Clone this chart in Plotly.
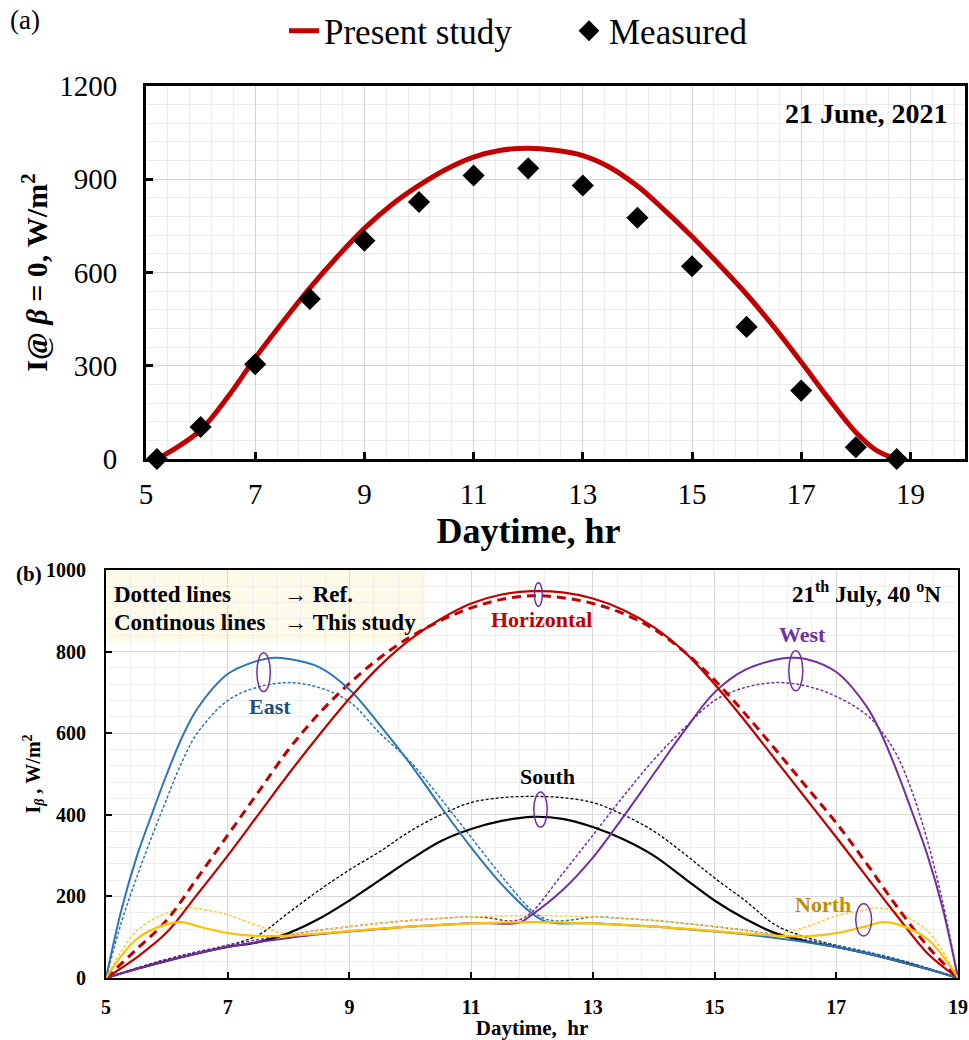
import plotly.graph_objects as go

FONT = "Liberation Serif"

# ---------------- Panel (a) data ----------------
a_curve_x = [5.2, 5.5, 6, 6.5, 7, 7.5, 8, 8.5, 9, 9.5, 10, 10.5, 11, 11.5, 12,
             12.5, 13, 13.5, 14, 14.5, 15, 15.5, 16, 16.5, 17, 17.5, 18, 18.4, 18.75]
a_curve_y = [0, 30, 93, 200, 325, 440, 550, 650, 742, 818, 880, 932, 971, 993, 1000,
             993, 976, 938, 878, 800, 716, 625, 530, 425, 312, 195, 86, 25, 0]
a_meas_x = [5.2, 6, 7, 8, 9, 10, 11, 12, 13, 14, 15, 16, 17, 18, 18.75]
a_meas_y = [0, 103, 305, 515, 702, 827, 912, 935, 880, 776, 620, 425, 220, 38, 0]

# ---------------- Panel (b) data ----------------
hrs = [5, 5.5, 6, 6.5, 7, 7.5, 8, 8.5, 9, 9.5, 10, 10.5, 11, 11.5, 12,
       12.5, 13, 13.5, 14, 14.5, 15, 15.5, 16, 16.5, 17, 17.5, 18, 18.5, 19]

horiz_solid = [0, 50, 112, 205, 300, 400, 500, 595, 685, 765, 830, 880, 918, 940, 948,
               945, 930, 902, 860, 800, 720, 630, 535, 440, 345, 248, 152, 60, 0]
horiz_ref = [0, 70, 142, 245, 350, 455, 560, 648, 722, 785, 836, 876, 907, 928, 937,
             932, 918, 893, 855, 800, 730, 648, 560, 470, 380, 280, 174, 78, 0]

south_solid = [0, 22, 42, 60, 76, 88, 110, 145, 190, 240, 290, 335, 365, 385, 395,
               390, 370, 340, 300, 245, 190, 145, 110, 90, 76, 60, 42, 22, 0]
south_ref = [0, 24, 46, 64, 80, 105, 160, 215, 265, 310, 360, 400, 430, 442, 445,
             442, 430, 400, 360, 305, 245, 190, 130, 100, 80, 64, 46, 24, 0]

east_x = [5, 5.25, 5.5, 5.75, 6, 6.25, 6.5, 7, 7.5, 7.75, 8, 8.5, 9, 9.5, 10, 10.5, 11,
          11.5, 12, 12.2, 12.4, 12.7, 13, 13.5, 14, 14.5, 15, 15.5, 16, 16.5, 17, 17.5,
          18, 18.5, 19]
east_solid = [0, 165, 295, 400, 500, 590, 660, 745, 778, 785, 782, 762, 707, 620, 525,
              420, 320, 230, 158, 140, 134, 134, 134, 130, 126, 120, 114, 107, 98, 88,
              76, 60, 42, 22, 0]
east_ref_x = [5, 5.25, 5.5, 5.75, 6, 6.25, 6.5, 7, 7.5, 8, 8.5, 9, 9.5, 10, 10.5, 11,
              11.5, 12, 12.2, 12.4, 12.7, 13, 13.5, 14, 14.5, 15, 15.5, 16, 16.5, 17,
              17.5, 18, 18.5, 19]
east_ref = [0, 135, 245, 345, 440, 530, 600, 680, 713, 724, 712, 677, 600, 530, 440,
            345, 250, 165, 146, 140, 143, 150, 146, 141, 134, 126, 117, 106, 94, 80,
            64, 46, 24, 0]

west_x = [5, 5.5, 6, 6.5, 7, 7.5, 8, 8.5, 9, 9.5, 10, 10.5, 11, 11.3, 11.6, 11.8, 12,
          12.5, 13, 13.5, 14, 14.5, 15, 15.5, 16, 16.25, 16.5, 17, 17.5, 17.75, 18,
          18.25, 18.5, 18.75, 19]
west_solid = [0, 22, 42, 60, 76, 88, 98, 107, 114, 120, 126, 130, 134, 134, 133, 136,
              155, 215, 295, 395, 500, 605, 700, 755, 780, 785, 782, 750, 665, 595,
              505, 405, 300, 170, 0]
west_ref_x = [5, 5.5, 6, 6.5, 7, 7.5, 8, 8.5, 9, 9.5, 10, 10.5, 11, 11.3, 11.6, 11.8,
              12, 12.5, 13, 13.5, 14, 14.5, 15, 15.5, 16, 16.5, 17, 17.5, 17.75, 18,
              18.25, 18.5, 18.75, 19]
west_ref = [0, 24, 46, 64, 80, 94, 106, 117, 126, 134, 141, 146, 150, 147, 140, 143,
            162, 255, 350, 445, 535, 612, 680, 712, 724, 716, 690, 645, 603, 545, 455,
            335, 185, 0]

north_x = [5, 5.5, 6, 6.25, 6.5, 7, 7.5, 8, 8.5, 9, 9.5, 10, 10.5, 11, 11.5, 12, 12.5,
           13, 13.5, 14, 14.5, 15, 15.5, 16, 16.5, 17, 17.5, 17.75, 18, 18.5, 19]
north_solid = [0, 95, 132, 137, 127, 110, 103, 104, 109, 115, 121, 126, 130, 134, 136,
               137, 136, 134, 130, 126, 121, 115, 109, 104, 102, 110, 127, 137, 132,
               95, 0]
north_ref_x = [5, 5.5, 6, 6.3, 6.5, 7, 7.5, 8, 8.5, 9, 9.5, 10, 10.5, 11, 11.5, 12,
               12.5, 13, 13.5, 14, 14.5, 15, 15.5, 16, 16.5, 17, 17.5, 17.7, 18, 18.5, 19]
north_ref = [0, 115, 160, 172, 170, 155, 128, 108, 117, 126, 134, 141, 146, 150, 152,
             153, 152, 150, 146, 141, 134, 126, 117, 108, 125, 152, 168, 172, 160, 115, 0]

C_RED = "#C00000"
C_BLUE = "#2E75B6"
C_PURPLE = "#7030A0"
C_YELLOW = "#FFC000"
C_BLACK = "#000000"

fig = go.Figure()

# ---- panel (a) traces
fig.add_trace(go.Scatter(x=a_curve_x, y=a_curve_y, mode="lines", name="Present study",
                         line=dict(color=C_RED, width=5, shape="spline"),
                         xaxis="x", yaxis="y"))
fig.add_trace(go.Scatter(x=a_meas_x, y=a_meas_y, mode="markers", name="Measured",
                         marker=dict(symbol="diamond", size=17, color="black"),
                         cliponaxis=False, xaxis="x", yaxis="y"))

# ---- panel (b) traces
thin_dash = "3px,2px"


def addb(x, y, color, dashed, width=2.0, dash=None):
    fig.add_trace(go.Scatter(
        x=x, y=y, mode="lines", showlegend=False,
        line=dict(color=color, width=width, shape="spline", smoothing=1.0,
                  dash=(dash if dash else (thin_dash if dashed else "solid"))),
        xaxis="x2", yaxis="y2"))


addb(hrs, south_ref, C_BLACK, True, 1.3)
addb(east_ref_x, east_ref, C_BLUE, True, 1.5)
addb(west_ref_x, west_ref, C_PURPLE, True, 1.5)
addb(north_ref_x, north_ref, "#FFCC33", True, 1.5)
addb(hrs, horiz_ref, C_RED, True, 3, dash="9px,6px")
addb(hrs, south_solid, C_BLACK, False, 2.2)
addb(east_x, east_solid, C_BLUE, False, 2)
addb(west_x, west_solid, C_PURPLE, False, 2)
addb(hrs, horiz_solid, C_RED, False, 2.2)
addb(north_x, north_solid, C_YELLOW, False, 2.2)

W, H = 969, 1040


def px(xp):
    return xp / W


def py(yp):
    return 1 - yp / H


ax_font = dict(family=FONT, size=29, color="black")

fig.update_layout(
    width=W, height=H, autosize=False,
    margin=dict(l=0, r=0, t=0, b=0, autoexpand=False),
    paper_bgcolor="white", plot_bgcolor="white",
    font=dict(family=FONT, color="black"),
    showlegend=True,
    legend=dict(orientation="h", x=px(284), y=py(31), xanchor="left", yanchor="middle",
                font=dict(family=FONT, size=35, color="black"),
                bgcolor="rgba(0,0,0,0)", entrywidth=240, tracegroupgap=0),
    xaxis=dict(domain=[px(146), px(965)], anchor="y", range=[5, 20], automargin=False,
               tickmode="array", tickvals=[5, 7, 9, 11, 13, 15, 17, 19],
               ticks="inside", ticklen=7, tickwidth=3, tickcolor="black",
               showline=True, linewidth=3, linecolor="black", mirror=True,
               showgrid=True, gridcolor="#d4d4d4", gridwidth=1.3,
               minor=dict(dtick=0.4, tick0=5, showgrid=True, gridcolor="#ececec", gridwidth=1),
               zeroline=False, tickfont=ax_font, ticklabelstandoff=7,
               title=dict(text="<b>Daytime, hr</b>" + "&nbsp;" * 6,
                          font=dict(family=FONT, size=36, color="black"), standoff=10)),
    yaxis=dict(domain=[py(459), py(86)], anchor="x", range=[0, 1200], automargin=False,
               tickmode="linear", tick0=0, dtick=300,
               ticks="inside", ticklen=7, tickwidth=3, tickcolor="black",
               showline=True, linewidth=3, linecolor="black", mirror=True,
               showgrid=True, gridcolor="#d4d4d4", gridwidth=1.3,
               minor=dict(dtick=60, showgrid=True, gridcolor="#ececec", gridwidth=1),
               zeroline=False, tickfont=ax_font, ticklabelstandoff=20,
               title=dict(text="<b>I@ <i>β</i> = 0, W/m<sup>2</sup></b>",
                          font=dict(family=FONT, size=30, color="black"), standoff=3)),
    xaxis2=dict(domain=[px(106), px(958)], anchor="y2", range=[5, 19], automargin=False,
                tickmode="linear", tick0=5, dtick=2,
                ticks="inside", ticklen=6, tickwidth=2, tickcolor="black",
                showline=True, linewidth=2, linecolor="black", mirror=True,
                showgrid=True, gridcolor="#d9d9d9", gridwidth=1.2,
                minor=dict(dtick=0.4, tick0=5, showgrid=True, gridcolor="#eeeeee", gridwidth=1),
                zeroline=False, tickfont=dict(family=FONT, size=20, color="black"),
                tickprefix="<b>", ticksuffix="</b>", ticklabelstandoff=10,
                title=dict(text="<b>Daytime,  hr</b>", font=dict(family=FONT, size=21, color="black"),
                           standoff=6)),
    yaxis2=dict(domain=[py(978), py(570)], anchor="x2", range=[0, 1000], automargin=False,
                tickmode="linear", tick0=0, dtick=200,
                ticks="inside", ticklen=6, tickwidth=2, tickcolor="black",
                showline=True, linewidth=2, linecolor="black", mirror=True,
                showgrid=True, gridcolor="#d9d9d9", gridwidth=1.2,
                minor=dict(dtick=40, showgrid=True, gridcolor="#eeeeee", gridwidth=1),
                zeroline=False, tickfont=dict(family=FONT, size=20, color="black"),
                tickprefix="<b>", ticksuffix="</b>", ticklabelstandoff=14,
                title=dict(text="<b>I<sub><i>β</i></sub> , W/m<sup>2</sup></b>",
                           font=dict(family=FONT, size=20, color="black"), standoff=0)),
)

# legend note box in panel (b)
fig.add_shape(type="rect", xref="x2", yref="y2", x0=5, x1=10.25, y0=822, y1=1000,
              fillcolor="#FDFBE8", line=dict(width=0), layer="below")

# ovals in panel (b)
ovals = [(7.48, 7.70, 702, 797), (12.04, 12.17, 911, 969), (16.22, 16.45, 704, 802),
         (12.03, 12.25, 370, 456), (17.32, 17.58, 103, 182)]
for x0, x1, y0, y1 in ovals:
    fig.add_shape(type="circle", xref="x2", yref="y2", x0=x0, x1=x1, y0=y0, y1=y1,
                  line=dict(color=C_PURPLE, width=1.5), fillcolor="rgba(0,0,0,0)")

# curve labels panel (b)
labels = [("East", 7.7, 665, "#1F4E79"), ("Horizontal", 12.15, 879, C_RED),
          ("West", 16.45, 842, C_PURPLE), ("South", 12.25, 493, C_BLACK),
          ("North", 16.78, 179, "#BF8F00")]
for txt, xv, yv, col in labels:
    fig.add_annotation(x=xv, y=yv, xref="x2", yref="y2", text="<b>%s</b>" % txt,
                       showarrow=False, font=dict(family=FONT, size=22, color=col))

# text annotations
fig.add_annotation(x=px(8), y=py(20), xref="paper", yref="paper", text="(a)",
                   showarrow=False, xanchor="left", yanchor="middle",
                   font=dict(family=FONT, size=27, color="black"))
fig.add_annotation(x=px(14), y=py(574), xref="paper", yref="paper", text="<b>(b)</b>",
                   showarrow=False, xanchor="left", yanchor="middle",
                   font=dict(family=FONT, size=21, color="black"))
fig.add_annotation(x=px(950), y=py(113), xref="paper", yref="paper",
                   text="<b>21 June, 2021</b>", showarrow=False, xanchor="right",
                   yanchor="middle", font=dict(family=FONT, size=28, color="black"))
fig.add_annotation(x=px(943), y=py(592), xref="paper", yref="paper",
                   text="<b>21<sup>th</sup> July, 40 <sup>o</sup>N</b>", showarrow=False,
                   xanchor="right", yanchor="middle",
                   font=dict(family=FONT, size=23, color="black"))
fig.add_annotation(x=px(112), y=py(594), xref="paper", yref="paper",
                   text="<b>Dotted lines</b>", showarrow=False, xanchor="left",
                   yanchor="middle", font=dict(family=FONT, size=23, color="black"))
fig.add_annotation(x=px(282), y=py(594), xref="paper", yref="paper",
                   text="→ <b>Ref.</b>", showarrow=False, xanchor="left",
                   yanchor="middle", font=dict(family=FONT, size=23, color="black"))
fig.add_annotation(x=px(112), y=py(622), xref="paper", yref="paper",
                   text="<b>Continous lines</b>", showarrow=False, xanchor="left",
                   yanchor="middle", font=dict(family=FONT, size=23, color="black"))
fig.add_annotation(x=px(282), y=py(622), xref="paper", yref="paper",
                   text="→ <b>This study</b>", showarrow=False, xanchor="left",
                   yanchor="middle", font=dict(family=FONT, size=23, color="black"))

fig.write_html("out.html")
